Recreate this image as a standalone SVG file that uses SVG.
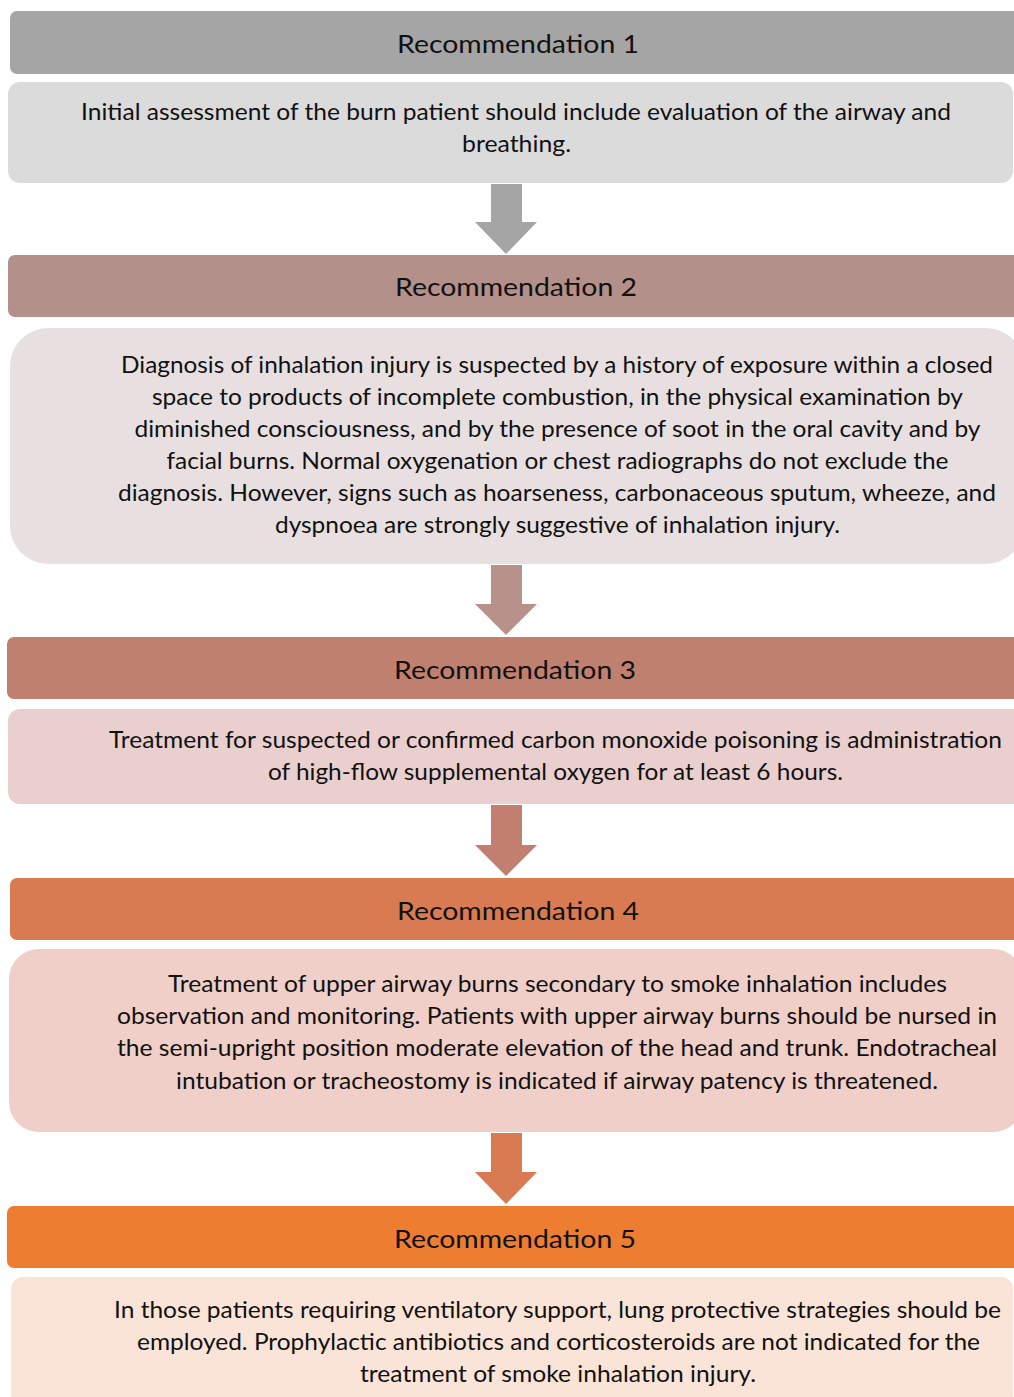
<svg xmlns="http://www.w3.org/2000/svg" width="1014" height="1397" viewBox="0 0 1014 1397">
<style>
  text { font-family: Lato, "Liberation Sans", sans-serif; fill: #111; text-anchor: middle; }
  .h { font-size: 25px; }
  .b { font-size: 22.5px; }
</style>
<rect x="0" y="0" width="1014" height="1397" fill="#ffffff"/>
<g id="rec1-header"><rect x="10" y="11" width="1030" height="63" rx="7" fill="#a5a5a5"/><text class="h" x="518" y="53" textLength="242" lengthAdjust="spacingAndGlyphs">Recommendation 1</text></g>
<g id="rec1-body"><rect x="8" y="82" width="1005" height="101" rx="12" fill="#dbdbdb"/>
<text class="b" x="516" y="120" textLength="870" lengthAdjust="spacingAndGlyphs">Initial assessment of the burn patient should include evaluation of the airway and</text>
<text class="b" x="516.5" y="152" textLength="109" lengthAdjust="spacingAndGlyphs">breathing.</text></g>
<g id="rec2-header"><rect x="8" y="255" width="1030" height="62" rx="7" fill="#b3908a"/><text class="h" x="516" y="296" textLength="242" lengthAdjust="spacingAndGlyphs">Recommendation 2</text></g>
<g id="rec2-body"><rect x="10" y="328" width="1014" height="236" rx="38" fill="#e8e0e0"/>
<text class="b" x="557" y="373" textLength="872" lengthAdjust="spacingAndGlyphs">Diagnosis of inhalation injury is suspected by a history of exposure within a closed</text>
<text class="b" x="557.5" y="405" textLength="811" lengthAdjust="spacingAndGlyphs">space to products of incomplete combustion, in the physical examination by</text>
<text class="b" x="557.5" y="437" textLength="846" lengthAdjust="spacingAndGlyphs">diminished consciousness, and by the presence of soot in the oral cavity and by</text>
<text class="b" x="557.5" y="469" textLength="782" lengthAdjust="spacingAndGlyphs">facial burns. Normal oxygenation or chest radiographs do not exclude the</text>
<text class="b" x="557" y="501" textLength="878" lengthAdjust="spacingAndGlyphs">diagnosis. However, signs such as hoarseness, carbonaceous sputum, wheeze, and</text>
<text class="b" x="557.5" y="533" textLength="565" lengthAdjust="spacingAndGlyphs">dyspnoea are strongly suggestive of inhalation injury.</text></g>
<g id="rec3-header"><rect x="7" y="637" width="1030" height="62" rx="7" fill="#c0806f"/><text class="h" x="515" y="679" textLength="242" lengthAdjust="spacingAndGlyphs">Recommendation 3</text></g>
<g id="rec3-body"><rect x="8" y="709" width="1020" height="95" rx="12" fill="#e9d0ce"/>
<text class="b" x="555.5" y="748" textLength="893" lengthAdjust="spacingAndGlyphs">Treatment for suspected or confirmed carbon monoxide poisoning is administration</text>
<text class="b" x="555.5" y="780" textLength="575" lengthAdjust="spacingAndGlyphs">of high-flow supplemental oxygen for at least 6 hours.</text></g>
<g id="rec4-header"><rect x="10" y="878" width="1030" height="62" rx="7" fill="#d87b52"/><text class="h" x="518" y="920" textLength="242" lengthAdjust="spacingAndGlyphs">Recommendation 4</text></g>
<g id="rec4-body"><rect x="9" y="949" width="1014" height="183" rx="30" fill="#efcfc7"/>
<text class="b" x="557.5" y="992" textLength="779" lengthAdjust="spacingAndGlyphs">Treatment of upper airway burns secondary to smoke inhalation includes</text>
<text class="b" x="557" y="1024" textLength="880" lengthAdjust="spacingAndGlyphs">observation and monitoring. Patients with upper airway burns should be nursed in</text>
<text class="b" x="557" y="1056" textLength="880" lengthAdjust="spacingAndGlyphs">the semi-upright position moderate elevation of the head and trunk. Endotracheal</text>
<text class="b" x="557" y="1089" textLength="762" lengthAdjust="spacingAndGlyphs">intubation or tracheostomy is indicated if airway patency is threatened.</text></g>
<g id="rec5-header"><rect x="7" y="1206" width="1030" height="62" rx="7" fill="#ed7d31"/><text class="h" x="515" y="1248" textLength="242" lengthAdjust="spacingAndGlyphs">Recommendation 5</text></g>
<g id="rec5-body"><rect x="11" y="1277" width="1002" height="130" rx="12" fill="#fae4d7"/>
<text class="b" x="557.5" y="1318" textLength="887" lengthAdjust="spacingAndGlyphs">In those patients requiring ventilatory support, lung protective strategies should be</text>
<text class="b" x="558.5" y="1350" textLength="843" lengthAdjust="spacingAndGlyphs">employed. Prophylactic antibiotics and corticosteroids are not indicated for the</text>
<text class="b" x="558" y="1382" textLength="396" lengthAdjust="spacingAndGlyphs">treatment of smoke inhalation injury.</text></g>
<g id="connectors">
<path d="M491,184 H522 V222 H537 L506,254 L475,222 H491 Z" fill="#a5a5a5"/>
<path d="M491,565 H522 V604 H537 L506,635 L475,604 H491 Z" fill="#b7918a"/>
<path d="M491,805 H522 V845 H537 L506,876 L475,845 H491 Z" fill="#c27f70"/>
<path d="M491,1133 H522 V1172 H537 L506,1204 L475,1172 H491 Z" fill="#d87b52"/>
</g>
</svg>
